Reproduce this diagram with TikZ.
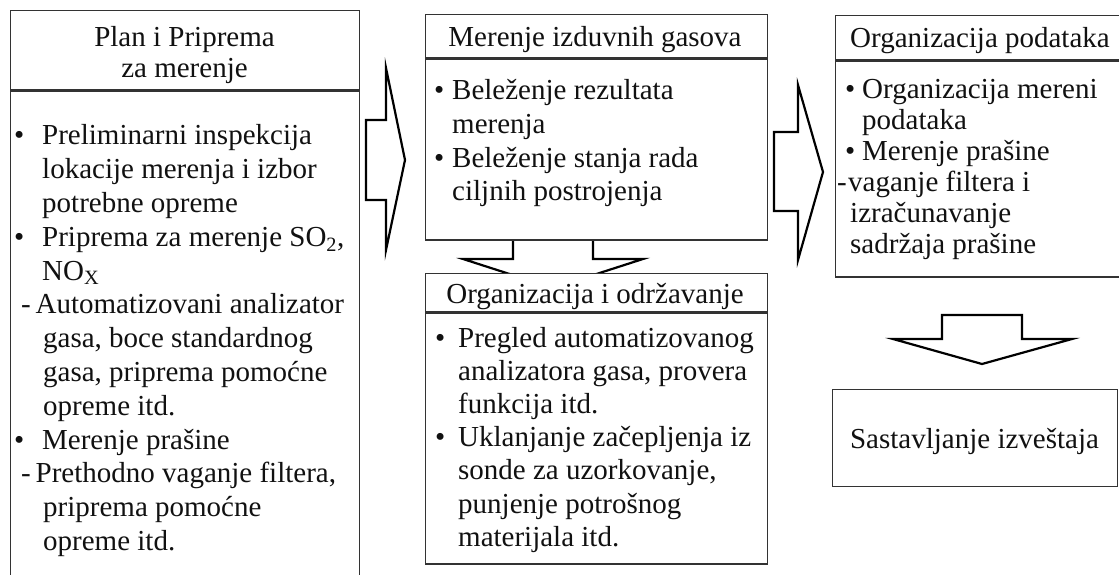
\documentclass[tikz,border=0pt]{standalone}
\usepackage{fontspec}
\setmainfont{Liberation Serif}
\definecolor{inkc}{HTML}{111111}
\definecolor{framec}{HTML}{333333}
% line helpers: bullet, dash and continuation indents
\newcommand{\bul}[2]{\hspace*{#1}\makebox[#2][l]{•}}
\newcommand{\dsh}[2]{\hspace*{#1}\makebox[#2][l]{-}}
\newcommand{\ind}[1]{\hspace*{#1}}
\newcommand{\rowsL}[1]{\begin{tabular}[t]{@{}l@{}}#1\end{tabular}}
\newcommand{\rowsC}[1]{\begin{tabular}[t]{@{}c@{}}#1\end{tabular}}
\tikzset{
  frame/.style={draw=framec, line width=1.3pt, fill=white, inner sep=0pt, anchor=north west},
  blockarrow/.style={draw=black, line width=2.2pt, fill=white, line join=miter},
  txt/.style={inner sep=0pt, text=inkc},
}
\begin{document}
\begin{tikzpicture}[x=1pt,y=-1pt]
\useasboundingbox (0,0) rectangle (1119,575);
\clip (0,0) rectangle (1119,575);
\fill[white] (0,0) rectangle (1119,575);

% ---- column 1: planning ----
\node[frame, minimum width=349pt, minimum height=79pt] (plantitle) at (10,10) {};
\node[frame, minimum width=349pt, minimum height=510pt] (planbody) at (plantitle.south west) {};
\node[txt, anchor=base, font={\fontsize{29}{31}\selectfont}] (plantxt) at (184.5,47)
  {\rowsC{Plan i Priprema\\za merenje}};
\node[txt, anchor=base west, font={\fontsize{29}{33.8}\selectfont}] (planlist) at (10,145)
  {\rowsL{%
   \bul{4pt}{28pt}Preliminarni inspekcija\\
   \ind{32pt}lokacije merenja i izbor\\
   \ind{32pt}potrebne opreme\\
   \bul{4pt}{28pt}Priprema za merenje SO\textsubscript{2},\\
   \ind{32pt}NO\textsubscript{X}\\
   \dsh{11pt}{14.5pt}Automatizovani analizator\\
   \ind{33pt}gasa, boce standardnog\\
   \ind{33pt}gasa, priprema pomoćne\\
   \ind{33pt}opreme itd.\\
   \bul{4pt}{28pt}Merenje prašine\\
   \dsh{11pt}{14.5pt}Prethodno vaganje filtera,\\
   \ind{33pt}priprema pomoćne\\
   \ind{33pt}opreme itd.}};

% ---- arrow from planning to measuring ----
\draw[blockarrow] (366,120) -- (386,120) -- (386,68) -- (405,160) -- (386,250)
  -- (386,200) -- (366,200) -- cycle;

% ---- arrow from measuring down to maintenance (tip hidden by the box below) ----
\draw[blockarrow] (513,238) -- (513,259) -- (463,259) -- (553,288) -- (643,259)
  -- (593,259) -- (593,238);

% ---- column 2: measuring ----
\node[frame, minimum width=342pt, minimum height=43pt] (meastitle) at (425,14) {};
\node[frame, minimum width=342pt, minimum height=181pt] (measbody) at (meastitle.south west) {};
\node[txt, anchor=base, font={\fontsize{29}{33.6}\selectfont}] (meastxt) at (595,47)
  {Merenje izduvnih gasova};
\node[txt, anchor=base west, font={\fontsize{29}{33.6}\selectfont}] (measlist) at (425,100)
  {\rowsL{%
   \bul{9pt}{18pt}Beleženje rezultata\\
   \ind{27pt}merenja\\
   \bul{9pt}{18pt}Beleženje stanja rada\\
   \ind{27pt}ciljnih postrojenja}};

\node[frame, minimum width=342pt, minimum height=38pt] (mainttitle) at (425,273) {};
\node[frame, minimum width=342pt, minimum height=251pt] (maintbody) at (mainttitle.south west) {};
\node[txt, anchor=base, font={\fontsize{29}{33}\selectfont}] (mainttxt) at (595,303)
  {Organizacija i održavanje};
\node[txt, anchor=base west, font={\fontsize{29}{33.2}\selectfont}] (maintlist) at (425,347)
  {\rowsL{%
   \bul{10pt}{23pt}Pregled automatizovanog\\
   \ind{33pt}analizatora gasa, provera\\
   \ind{33pt}funkcija itd.\\
   \bul{10pt}{23pt}Uklanjanje začepljenja iz\\
   \ind{33pt}sonde za uzorkovanje,\\
   \ind{33pt}punjenje potrošnog\\
   \ind{33pt}materijala itd.}};

% ---- arrow from measuring to data ----
\draw[blockarrow] (774,132) -- (798,132) -- (798,85) -- (823,172) -- (798,260)
  -- (798,211) -- (774,211) -- cycle;

% ---- column 3: data and report ----
\node[frame, minimum width=290pt, minimum height=44pt] (datatitle) at (835,15) {};
\node[frame, minimum width=290pt, minimum height=216pt] (databody) at (datatitle.south west) {};
\node[txt, anchor=base, font={\fontsize{29}{31}\selectfont}] (datatxt) at (980,48)
  {Organizacija podataka};
\node[txt, anchor=base west, font={\fontsize{29}{31}\selectfont}] (datalist) at (835,99)
  {\rowsL{%
   \bul{10pt}{17pt}Organizacija mereni\\
   \ind{27pt}podataka\\
   \bul{10pt}{17pt}Merenje prašine\\
   \dsh{2pt}{11pt}vaganje filtera i\\
   \ind{15pt}izračunavanje\\
   \ind{15pt}sadržaja prašine}};

\draw[blockarrow] (942,315) -- (1022,315) -- (1022,339) -- (1072,339) -- (982,364)
  -- (893,339) -- (942,339) -- cycle;

\node[frame, minimum width=285pt, minimum height=97pt] (report) at (832,389) {};
\node[txt, anchor=base, font={\fontsize{29}{33}\selectfont}] (reporttxt) at (974.5,448)
  {Sastavljanje izveštaja};
\end{tikzpicture}
\end{document}
